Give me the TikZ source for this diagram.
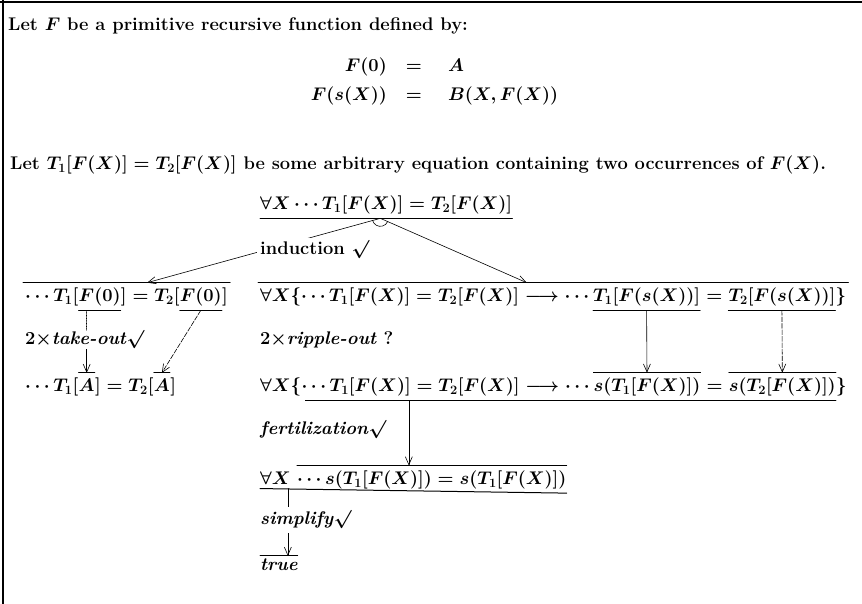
\RequirePackage{fix-cm}
\documentclass[tikz,border=0pt]{standalone}
\usetikzlibrary{calc,arrows.meta}

\tikzset{
  frm/.style={inner sep=0pt, font=\fontsize{18.3}{22}\selectfont\bfseries\boldmath},
  nxt/.style={frm, anchor=base west},
  lbl/.style={frm, anchor=west},
  bar/.style={line width=1pt},
  uln/.style={line width=0.7pt},
  lnk/.style={line width=0.6pt, >={Straight Barb[length=8pt,width=7pt]}},
}

\begin{document}
\begin{tikzpicture}[x=1pt,y=1pt,line cap=round]
  \useasboundingbox (0,0) rectangle (862,-604);
  % frame
  \draw[line width=1.5pt] (0,-2) -- (862,-2);
  \draw[line width=1.5pt] (3,0) -- (3,-604);

  % definition
  \node[frm, anchor=base west] (intro) at (8,-31)
    {Let $F$ be a primitive recursive function defined by:};
  \node[frm, anchor=base east] (e1l) at (387,-72) {$F(0)$};
  \node[frm, anchor=base] (e1m) at (414,-72) {$=$};
  \node[frm, anchor=base west] (e1r) at (448,-72) {$A$};
  \node[frm, anchor=base east] (e2l) at (387,-101) {$F(s(X))$};
  \node[frm, anchor=base] (e2m) at (414,-101) {$=$};
  \node[frm, anchor=base west] (e2r) at (448,-101) {$B(X,F(X))$};
  \node[frm, anchor=base west] (eqn) at (10,-170)
    {Let $T_1[F(X)] = T_2[F(X)]$ be some arbitrary equation containing two occurrences of $F(X)$.};

  % goal
  \node[lbl] (n0) at (260,-205) {$\forall X\cdots T_1[F(X)] = T_2[F(X)]$};
  \draw[bar] ($(n0.south west)+(0,-4)$) -- ($(n0.south east)+(0,-4)$);
  \coordinate (jn) at ($(n0.south west)!0.477!(n0.south east)+(0,-4)$);

  % base case
  \node[lbl] (g1a) at (25,-297) {$\cdots T_1[$};
  \node[nxt] (g1b) at (g1a.base east) {$F(0)$};
  \node[nxt] (g1c) at (g1b.base east) {$]=T_2[$};
  \node[nxt] (g1d) at (g1c.base east) {$F(0)$};
  \node[nxt] (g1e) at (g1d.base east) {$]$};
  \draw[bar] ($(g1a.north west)+(-2,5)$) coordinate (g1tl) -- ($(g1e.north east)+(2,5)$) coordinate (g1tr);
  \draw[uln] ($(g1b.south west)+(0,-4)$) coordinate (g1u) -- ($(g1b.south east)+(0,-4)$);
  \draw[uln] ($(g1d.south west)+(0,-4)$) -- ($(g1d.south east)+(0,-4)$);

  \node[lbl] (tko) at (25,-340) {$2\times$\textit{take-out}$\surd$};

  \node[lbl] (g1ra) at (25,-387) {$\cdots T_1[$};
  \node[nxt] (g1rb) at (g1ra.base east) {$A$};
  \node[nxt] (g1rc) at (g1rb.base east) {$]=T_2[$};
  \node[nxt] (g1rd) at (g1rc.base east) {$A$};
  \node[nxt] (g1re) at (g1rd.base east) {$]$};
  \draw[uln] ($(g1rb.north west)+(0,6)$) -- ($(g1rb.north east)+(0,6)$);
  \draw[uln] ($(g1rd.north west)+(0,6)$) -- ($(g1rd.north east)+(0,6)$);

  \draw[lnk, densely dotted] (g1rb.north |- g1u) -- (g1rb.north |- tko.north);
  \draw[lnk, ->] (g1rb.north |- tko.south) -- ($(g1rb.north)+(0,6)$);
  \draw[lnk, ->, dash pattern=on 5pt off 1.5pt] ($(g1d.south)+(0,-4)$) -- ($(g1rd.north)+(0,6)$);

  % step case
  \node[lbl] (g2a) at (260,-297) {$\forall X\{\cdots T_1[F(X)] = T_2[F(X)] \longrightarrow \cdots\,$};
  \node[nxt] (g2b) at (g2a.base east) {$T_1[F(s(X))]$};
  \node[nxt] (g2c) at (g2b.base east) {${}={}$};
  \node[nxt] (g2d) at (g2c.base east) {$T_2[F(s(X))]$};
  \node[nxt] (g2e) at (g2d.base east) {$\}$};
  \draw[bar] ($(g2a.north west)+(-2,5)$) coordinate (g2tl) -- ($(g2e.north east)+(2,5)$) coordinate (g2tr);
  \draw[uln] ($(g2b.south west)+(0,-4)$) -- ($(g2b.south east)+(0,-4)$);
  \draw[uln] ($(g2d.south west)+(0,-4)$) -- ($(g2d.south east)+(0,-4)$);

  \draw[lnk, ->] (jn) -- ($(g1tl)!0.6!(g1tr)$);
  \draw[lnk, ->] (jn) -- ($(g2tl)!0.455!(g2tr)$);
  \draw[lnk] ($(jn)+(195:8)$) arc[start angle=195, end angle=337, radius=8];
  \node[lbl, fill=white, inner sep=3pt] (ind) at (257,-250) {induction $\surd$};

  \node[lbl] (rpl) at (260,-340) {$2\times$\textit{ripple-out} ?};

  \node[lbl] (g3a) at (260,-387) {$\forall X\{$};
  \node[nxt] (g3b) at (g3a.base east) {$\cdots T_1[F(X)] = T_2[F(X)] \longrightarrow \cdots\,$};
  \node[nxt] (g3c) at (g3b.base east) {$s(T_1[F(X)])$};
  \node[nxt] (g3d) at (g3c.base east) {${}={}$};
  \node[nxt] (g3e) at (g3d.base east) {$s(T_2[F(X)])$};
  \node[nxt] (g3f) at (g3e.base east) {$\}$};
  \draw[uln] ($(g3c.north west)+(0,5)$) -- ($(g3c.north east)+(0,5)$);
  \draw[uln] ($(g3e.north west)+(0,5)$) -- ($(g3e.north east)+(0,5)$);
  \draw[uln] ($(g3b.south west)+(4,-4)$) coordinate (g3u) -- ($(g3e.south east)+(0,-4)$);

  \draw[lnk, ->] ($(g2b.south)+(0,-4)$) -- ($(g3c.north)+(0,5)$);
  \draw[lnk, ->, dash pattern=on 5pt off 1.5pt] ($(g2d.south)+(0,-4)$) -- ($(g3e.north)+(0,5)$);

  \node[lbl] (fer) at (260,-430) {\textit{fertilization}$\surd$};

  \node[lbl] (g4a) at (260,-478) {$\forall X$};
  \node[nxt] (g4b) at ($(g4a.base east)+(6,0)$) {$\cdots s(T_1[F(X)]) = s(T_1[F(X)])$};
  \draw[uln] ($(g4b.north west)+(0,5)$) -- ($(g4b.north east)+(0,5)$);
  \draw[bar] ($(g4a.south west)+(0,-4)$) coordinate (g4u) -- ($(g4b.south east)+(0,-4)$);
  \coordinate (fx) at ($(g4b.north west)+(112,5)$);
  \draw[lnk, ->] (fx |- g3u) -- (fx);

  \node[lbl] (sim) at (260,-520) {\textit{simplify}$\surd$};
  \node[lbl] (tru) at (260,-565) {\textit{true}};
  \draw[uln] ($(tru.north west)+(0,3)$) coordinate (tov) -- ($(tru.north east)+(0,3)$);
  \coordinate (sx) at ($(g4a.east)+(-3,0)$);
  \draw[lnk] (sx |- g4u) -- ($(sx |- sim.north)+(0,4)$);
  \draw[lnk, ->] ($(sx |- sim.south)+(0,-4)$) -- (sx |- tov);
\end{tikzpicture}
\end{document}
